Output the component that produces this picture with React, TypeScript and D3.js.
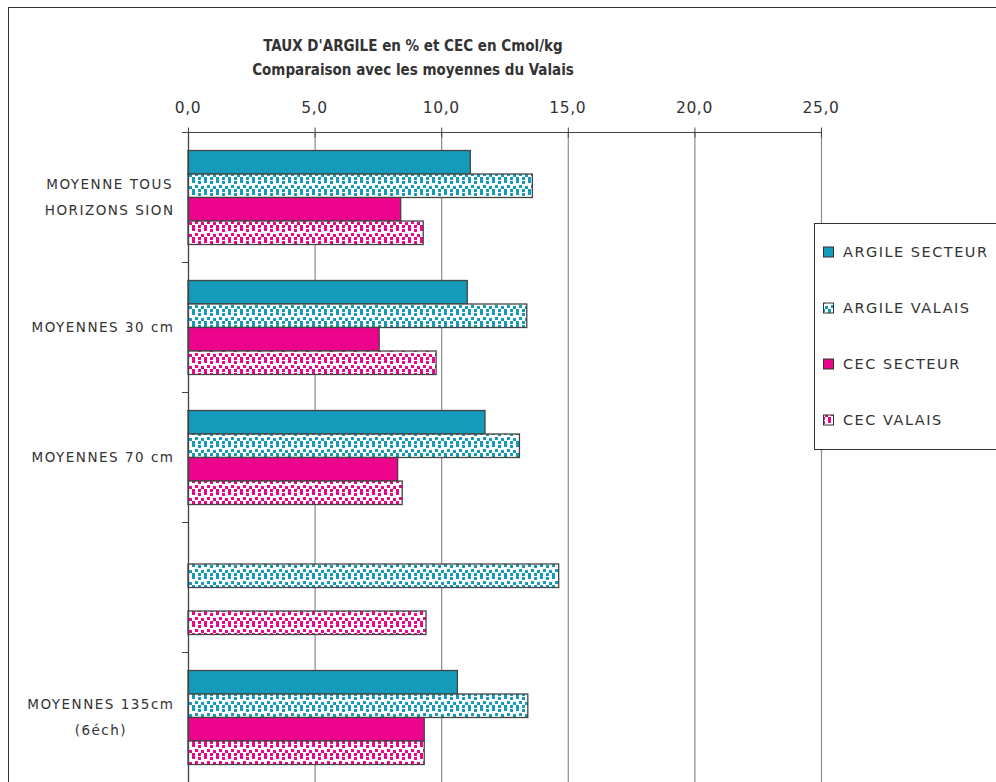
import * as d3 from "d3";
import { useEffect, useRef } from "react";

const TITLE = ["TAUX D'ARGILE en % et CEC en Cmol/kg", "Comparaison avec les moyennes du Valais"];

const categoryLabels: string[][] = [
  ["MOYENNE TOUS", "HORIZONS SION"],
  ["MOYENNES 30 cm"],
  ["MOYENNES 70 cm"],
  [],
  ["MOYENNES 135cm", "(6éch)"],
];

const seriesNames = ["ARGILE SECTEUR", "ARGILE VALAIS", "CEC SECTEUR", "CEC VALAIS"];

const argileSecteur = [11.15, 11.03, 11.73, null, 10.64];
const argileValais = [13.6, 13.38, 13.09, 14.64, 13.42];
const cecSecteur = [8.4, 7.55, 8.28, null, 9.33];
const cecValais = [9.29, 9.8, 8.46, 9.4, 9.33];

const xTicks = [0, 5, 10, 15, 20, 25];

const TEAL = "#149bb9";
const MAGENTA = "#ec048c";
const TEXT = "#333";
const FONT = "'DejaVu Sans', Verdana, sans-serif";

export default function App() {
  const svgRef = useRef<SVGSVGElement | null>(null);

  useEffect(() => {
    const width = 996;
    const height = 782;
    const margin = { top: 132.5, left: 188, right: 175 };

    const values = [argileSecteur, argileValais, cecSecteur, cecValais];
    const fills = [TEAL, "url(#pat-teal)", MAGENTA, "url(#pat-mag)"];

    const x = d3.scaleLinear().domain([0, 25]).range([margin.left, width - margin.right]);
    const y0 = d3
      .scaleBand<number>()
      .domain(d3.range(categoryLabels.length))
      .range([margin.top, margin.top + 650]);
    const y1 = d3
      .scaleBand<number>()
      .domain(d3.range(seriesNames.length))
      .range([0, y0.bandwidth()])
      .paddingInner(0)
      .paddingOuter(0.766);

    const svg = d3.select(svgRef.current);
    svg.selectAll("*").remove();
    svg.attr("width", width).attr("height", height);

    // confetti patterns
    const defs = svg.append("defs");
    const dots = [
      [0, 0, 3, 3],
      [6, 1, 3, 3],
      [3, 5, 3, 3],
      [9, 6, 3, 3],
      [0, 9, 3, 3],
      [6, 9, 3, 3],
    ];
    [["pat-teal", TEAL], ["pat-mag", MAGENTA]].forEach(([id, c]) => {
      const p = defs
        .append("pattern")
        .attr("id", id)
        .attr("patternUnits", "userSpaceOnUse")
        .attr("width", 12)
        .attr("height", 12);
      p.append("rect").attr("width", 12).attr("height", 12).attr("fill", "#fff");
      dots.forEach(([a, b, w, h]) => {
        p.append("rect").attr("x", a).attr("y", b).attr("width", w).attr("height", h).attr("fill", c);
      });
    });

    // outer frame
    svg
      .append("rect")
      .attr("x", 8.5)
      .attr("y", 7.5)
      .attr("width", 1000)
      .attr("height", 800)
      .attr("fill", "#fff")
      .attr("stroke", "#333")
      .attr("stroke-width", 1);

    // title
    svg
      .append("g")
      .selectAll("text")
      .data(TITLE)
      .enter()
      .append("text")
      .attr("x", 413)
      .attr("y", (_, i) => 45.5 + i * 24)
      .attr("dy", "0.35em")
      .attr("text-anchor", "middle")
      .attr("font-family", "'DejaVu Sans Condensed', 'DejaVu Sans', sans-serif")
      .attr("font-weight", "bold")
      .attr("font-size", 15)
      .attr("fill", TEXT)
      .text(d => d);

    // gridlines
    svg
      .append("g")
      .selectAll("line")
      .data(xTicks.slice(1))
      .enter()
      .append("line")
      .attr("x1", d => x(d) + 0.5)
      .attr("x2", d => x(d) + 0.5)
      .attr("y1", margin.top)
      .attr("y2", height)
      .attr("stroke", "#8c8c8c")
      .attr("stroke-width", 1.2);

    // bars
    values.forEach((vals, si) => {
      svg
        .append("g")
        .selectAll("rect")
        .data(vals.map((v, ci) => ({ v, ci })).filter(d => d.v !== null))
        .enter()
        .append("rect")
        .attr("x", x(0))
        .attr("y", d => y0(d.ci)! + y1(si)!)
        .attr("width", d => x(d.v as number) - x(0))
        .attr("height", y1.bandwidth())
        .attr("fill", fills[si])
        .attr("stroke", "#444")
        .attr("stroke-width", 1.3);
    });

    // top value axis
    const top = svg.append("g").attr("transform", `translate(0,${margin.top})`);
    top
      .append("line")
      .attr("x1", x(0))
      .attr("x2", x(25))
      .attr("stroke", "#444");
    top
      .selectAll("line.tick")
      .data(xTicks)
      .enter()
      .append("line")
      .attr("class", "tick")
      .attr("x1", d => x(d) + 0.5)
      .attr("x2", d => x(d) + 0.5)
      .attr("y1", -5)
      .attr("y2", 5)
      .attr("stroke", "#444");
    top
      .selectAll("text")
      .data(xTicks)
      .enter()
      .append("text")
      .attr("x", d => x(d))
      .attr("y", -20)
      .attr("text-anchor", "middle")
      .attr("font-family", FONT)
      .attr("font-size", 15.5)
      .attr("letter-spacing", 0.6)
      .attr("fill", TEXT)
      .text(d => d3.format(".1f")(d).replace(".", ","));

    // left category axis
    const left = svg.append("g");
    left
      .append("line")
      .attr("x1", x(0) + 0.5)
      .attr("x2", x(0) + 0.5)
      .attr("y1", margin.top)
      .attr("y2", height)
      .attr("stroke", "#444")
      .attr("stroke-width", 1.3);
    left
      .selectAll("line.tick")
      .data(d3.range(categoryLabels.length))
      .enter()
      .append("line")
      .attr("class", "tick")
      .attr("x1", x(0) - 6)
      .attr("x2", x(0))
      .attr("y1", d => y0(d)!)
      .attr("y2", d => y0(d)!)
      .attr("stroke", "#444");

    categoryLabels.forEach((lines, ci) => {
      const cy = y0(ci)! + y0.bandwidth() / 2;
      const texts = lines.map((line, li) =>
        left
          .append("text")
          .attr("y", cy + (li - (lines.length - 1) / 2) * 26)
          .attr("dy", "0.35em")
          .attr("text-anchor", "middle")
          .attr("font-family", FONT)
          .attr("font-size", 13.5)
          .attr("letter-spacing", 1.5)
          .attr("fill", TEXT)
          .text(line)
      );
      const maxW = d3.max(texts, t => (t.node() as SVGTextElement).getComputedTextLength()) ?? 0;
      texts.forEach(t => t.attr("x", 174.5 - maxW / 2));
    });

    // legend
    const lg = svg.append("g");
    lg.append("rect")
      .attr("x", 814.5)
      .attr("y", 223.5)
      .attr("width", 200)
      .attr("height", 226)
      .attr("fill", "#fff")
      .attr("stroke", "#333");
    seriesNames.forEach((name, i) => {
      const cy = 252 + i * 56;
      lg.append("rect")
        .attr("x", 823.5)
        .attr("y", cy - 5)
        .attr("width", 10)
        .attr("height", 10)
        .attr("fill", fills[i])
        .attr("stroke", "#333");
      lg.append("text")
        .attr("x", 843)
        .attr("y", cy)
        .attr("dy", "0.35em")
        .attr("font-family", FONT)
        .attr("font-size", 14.5)
        .attr("letter-spacing", 1.5)
        .attr("fill", TEXT)
        .text(name);
    });
  }, []);

  return (
    <svg
      ref={svgRef}
      style={{ position: "absolute", left: 0, top: 0, display: "block" }}
    />
  );
}
